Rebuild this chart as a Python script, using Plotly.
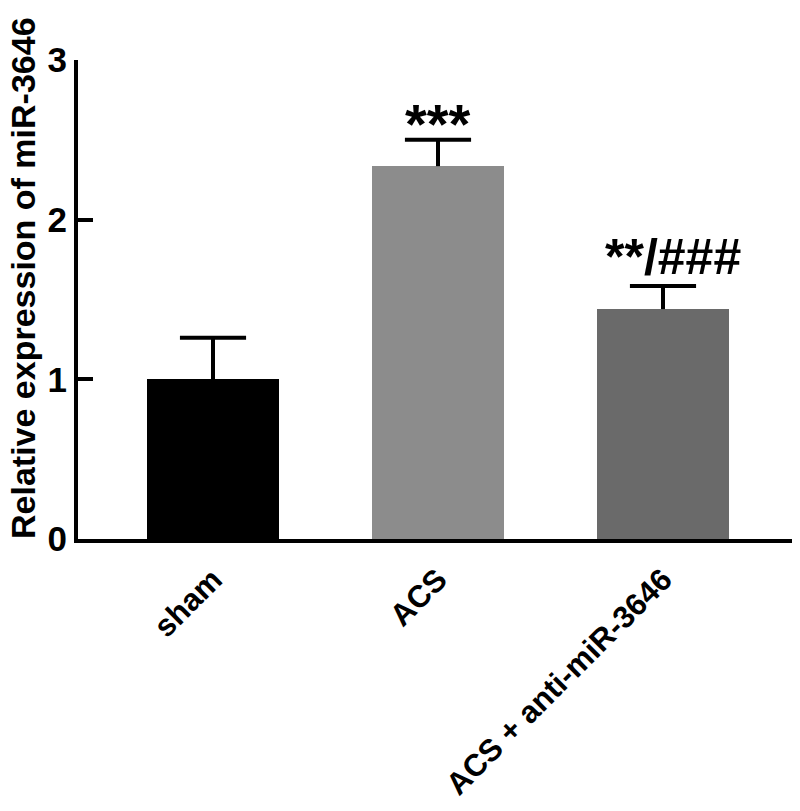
import plotly.graph_objects as go

# group labels and measured values
groups = ['sham', 'ACS', 'ACS + anti-miR-3646']
means = [1.0, 2.335, 1.44]
errs = [0.26, 0.165, 0.145]
colors = ['#000000', '#8c8c8c', '#6a6a6a']
stars = ['', '***', '**/###']

FONT = 'Liberation Sans'
CAP = 0.147  # half cap width, in category units

fig = go.Figure()
fig.add_trace(go.Bar(
    x=list(range(len(groups))), y=means,
    marker=dict(color=colors, line=dict(width=0)),
    width=0.59, showlegend=False,
))

# upper-only error bars: stem + cap
for i, (m, e) in enumerate(zip(means, errs)):
    fig.add_trace(go.Scatter(x=[i, i, None, i - CAP, i + CAP], y=[m, m + e, None, m + e, m + e],
                             mode='lines', line=dict(color='black', width=4),
                             showlegend=False, hoverinfo='skip'))

# significance marks above the error bars
for i, s in enumerate(stars):
    if not s:
        continue
    fig.add_annotation(x=i, y=means[i] + errs[i], text='<b>' + s + '</b>',
                       showarrow=False, yanchor='bottom', yshift=-17 if i == 1 else -1,
                       xshift=0 if i == 1 else 10,
                       font=dict(family=FONT, size=56 if i == 1 else 50, color='black'))

# y axis title
fig.add_annotation(x=0.0, xref='paper', xshift=-55, xanchor='center',
                   y=1 - (278 - 60) / 479, yref='paper', yanchor='middle',
                   text='<b>Relative expression of miR-3646</b>', textangle=-90,
                   showarrow=False, borderpad=0,
                   font=dict(family=FONT, size=34, color='black'))

# page body adds 8px margin, so size and margins are shifted to match
fig.update_layout(
    width=792, height=803,
    margin=dict(l=70, r=2, t=52, b=272),
    plot_bgcolor='white', paper_bgcolor='white',
    font=dict(family=FONT, color='black'),
    bargap=0,
)
fig.update_xaxes(
    range=[-0.6, 2.6], tickvals=list(range(len(groups))),
    ticktext=['<b>' + g + '</b>' for g in groups],
    tickangle=-45, tickfont=dict(family=FONT, size=31),
    showline=True, linecolor='black', linewidth=4, automargin=False,
    ticks='', showgrid=False, zeroline=False, ticklabelstandoff=6,
)
fig.update_yaxes(
    range=[0, 3], tickvals=[0, 1, 2, 3], ticktext=['<b>%d</b>' % v for v in [0, 1, 2, 3]],
    tickfont=dict(family=FONT, size=35), automargin=False,
    showline=True, linecolor='black', linewidth=4,
    ticks='inside', ticklen=15, tickwidth=4, tickcolor='black',
    showgrid=False, zeroline=False,
)

fig.write_html('out.html')
